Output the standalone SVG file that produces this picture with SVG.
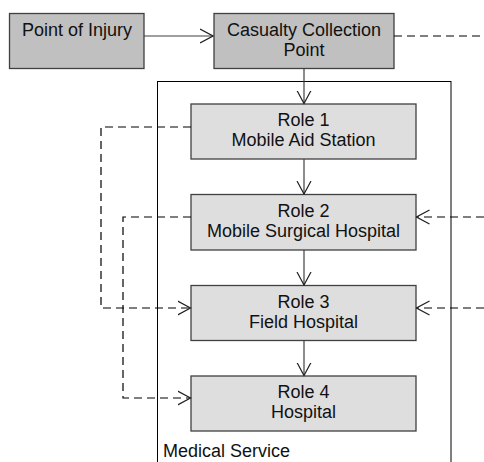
<svg xmlns="http://www.w3.org/2000/svg" width="484" height="462" viewBox="0 0 484 462">
  <defs>
    <!-- open V arrowhead used by all connectors -->
    <marker id="open" viewBox="0 0 14 16" refX="13" refY="8" markerWidth="14" markerHeight="16" markerUnits="userSpaceOnUse" orient="auto">
      <path d="M0,1 L13,8 L0,15" fill="none" stroke="#202020" stroke-width="1.2"/>
    </marker>
    <style>
      .top { fill: #c0c0c0; stroke: #404040; stroke-width: 1.3; }
      .role { fill: #dedede; stroke: #404040; stroke-width: 1.3; }
      .container { fill: none; stroke: #000; stroke-width: 1; }
      text { font-family: "Liberation Sans", Arial, sans-serif; font-size: 18px; fill: #111; text-anchor: middle; }
      .solid { fill: none; stroke: #404040; stroke-width: 1.2; }
      .dash { fill: none; stroke: #000; stroke-width: 1.2; stroke-dasharray: 8 5; }
    </style>
  </defs>

  <rect fill="#fff" x="0" y="0" width="484" height="462"/>

  <!-- Medical Service boundary -->
  <g id="medical-service">
    <rect class="container" x="157.5" y="81.5" width="293.5" height="400"/>
    <text x="163" y="457" style="text-anchor:start">Medical Service</text>
  </g>

  <g id="point-of-injury">
    <rect class="top" x="9.5" y="13.5" width="134.5" height="55"/>
    <text x="77" y="36">Point of Injury</text>
  </g>

  <g id="casualty-collection-point">
    <rect class="top" x="214" y="13.5" width="180" height="55"/>
    <text x="304" y="36">Casualty Collection</text>
    <text x="304" y="55.5">Point</text>
  </g>

  <g id="role-1">
    <rect class="role" x="191" y="104" width="225" height="55"/>
    <text x="303.5" y="126">Role 1</text>
    <text x="303.5" y="145.5">Mobile Aid Station</text>
  </g>

  <g id="role-2">
    <rect class="role" x="191" y="194.5" width="225" height="55.5"/>
    <text x="303.5" y="216.5">Role 2</text>
    <text x="303.5" y="236.5">Mobile Surgical Hospital</text>
  </g>

  <g id="role-3">
    <rect class="role" x="191" y="285.5" width="225" height="55"/>
    <text x="303.5" y="307.5">Role 3</text>
    <text x="303.5" y="327.5">Field Hospital</text>
  </g>

  <g id="role-4">
    <rect class="role" x="191" y="376" width="225" height="55"/>
    <text x="303.5" y="398">Role 4</text>
    <text x="303.5" y="418">Hospital</text>
  </g>

  <g id="connectors">
    <path class="solid" d="M144,36 H213" marker-end="url(#open)"/>
    <path class="solid" d="M304,68.5 V103.5" marker-end="url(#open)"/>
    <path class="solid" d="M304,159 V194" marker-end="url(#open)"/>
    <path class="solid" d="M304,250 V285" marker-end="url(#open)"/>
    <path class="solid" d="M304,340.5 V375.5" marker-end="url(#open)"/>

    <path class="dash" d="M394,36 H484"/>
    <path class="dash" d="M191,127 H101 V308 H190.5" marker-end="url(#open)"/>
    <path class="dash" d="M191,217 H123 V398 H190.5" marker-end="url(#open)"/>
    <path class="dash" d="M484,217 H416.5" marker-end="url(#open)"/>
    <path class="dash" d="M484,308 H416.5" marker-end="url(#open)"/>
  </g>
</svg>
